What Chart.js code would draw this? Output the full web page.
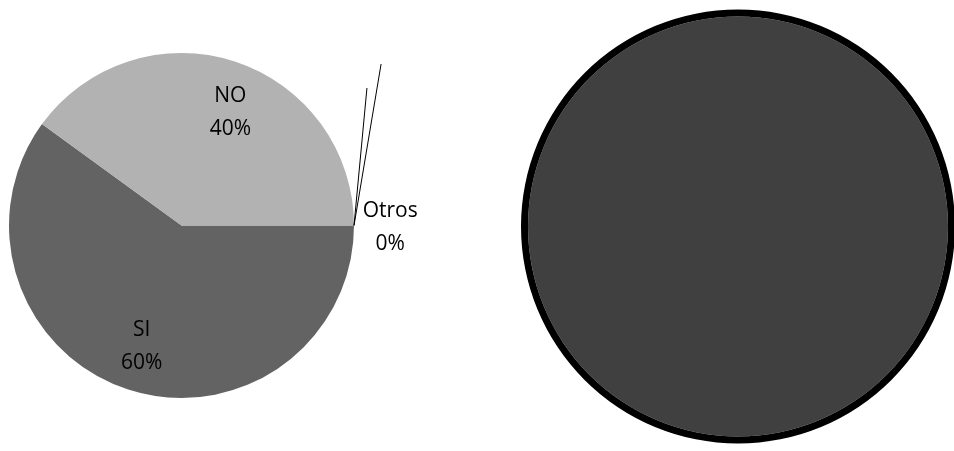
<!DOCTYPE html>
<html><head><meta charset="utf-8">
<script src="https://cdn.jsdelivr.net/npm/chart.js@4/dist/chart.umd.min.js"></script>
<style>
html,body{margin:0;padding:0;background:#fff;width:954px;height:451px;overflow:hidden;}
#w1{position:absolute;left:0;top:0;width:500px;height:451px;}
#w2{position:absolute;left:510px;top:0;width:460px;height:451px;}
</style></head><body>
<div id="w1"><canvas id="c1"></canvas></div>
<div id="w2"><canvas id="c2"></canvas></div>
<script>
// ---- data ----
const categories = ['SI', 'NO', 'Otros'];
const values = [60, 40, 0];
const rightCategories = ['Total'];
const rightValues = [100];

// ---- styles ----
const sliceColors = ['#636363', '#b2b2b2', '#000000'];
const labelFont = '21px "Open Sans", "Liberation Sans", sans-serif';
const lineGap = 33;
const labelNudge = [{x: -1.5, y: 3}, {x: 10.5, y: 5}, {x: 0, y: 2}];

const total = values.reduce((a, b) => a + b, 0);

const labelPlugin = {
  id: 'pieLabels',
  afterDatasetsDraw(chart) {
    const ctx = chart.ctx;
    const meta = chart.getDatasetMeta(0);
    ctx.save();
    ctx.font = labelFont;
    ctx.fillStyle = '#000';
    ctx.textAlign = 'center';
    ctx.textBaseline = 'middle';
    meta.data.forEach((arc, i) => {
      const p = arc.getProps(['x', 'y', 'startAngle', 'endAngle', 'outerRadius'], true);
      const mid = (p.startAngle + p.endAngle) / 2;
      const pct = Math.round(values[i] / total * 100) + '%';
      let cx, cy;
      if (values[i] > 0) {
        const r = 0.72 * p.outerRadius;
        cx = p.x + Math.cos(mid) * r + labelNudge[i].x;
        cy = p.y + Math.sin(mid) * r + labelNudge[i].y;
      } else {
        // zero slice: label outside with leader lines
        const ex = p.x + Math.cos(mid) * p.outerRadius;
        const ey = p.y + Math.sin(mid) * p.outerRadius;
        cx = p.x + 1.21 * p.outerRadius + labelNudge[i].x;
        cy = p.y + labelNudge[i].y;
        ctx.strokeStyle = '#000';
        ctx.lineWidth = 1;
        const ends = [[1.075, -0.797], [1.157, -0.936]];
        ends.forEach(e => {
          ctx.beginPath();
          ctx.moveTo(ex, ey);
          ctx.lineTo(p.x + e[0] * p.outerRadius, p.y + e[1] * p.outerRadius);
          ctx.stroke();
        });
      }
      ctx.fillText(categories[i], cx, cy - lineGap / 2);
      ctx.fillText(pct, cx, cy + lineGap / 2);
    });
    ctx.restore();
  }
};

new Chart(document.getElementById('c1'), {
  type: 'pie',
  data: {
    labels: categories,
    datasets: [{data: values, backgroundColor: sliceColors, borderWidth: 0}]
  },
  options: {
    responsive: true, maintainAspectRatio: false, animation: false, devicePixelRatio: 1,
    rotation: 90,
    layout: {padding: {left: 9, right: 146, top: 53, bottom: 53}},
    plugins: {legend: {display: false}, tooltip: {enabled: false}}
  },
  plugins: [labelPlugin]
});

new Chart(document.getElementById('c2'), {
  type: 'doughnut',
  data: {
    labels: rightCategories,
    datasets: [
      {data: rightValues, backgroundColor: '#000000', borderWidth: 0, weight: 7},
      {data: rightValues, backgroundColor: '#404040', borderWidth: 0, weight: 210}
    ]
  },
  options: {
    responsive: true, maintainAspectRatio: false, animation: false, devicePixelRatio: 1,
    cutout: 0,
    layout: {padding: {left: 11, right: 15, top: 9.5, bottom: 7.5}},
    plugins: {legend: {display: false}, tooltip: {enabled: false}}
  }
});
</script>
</body></html>
